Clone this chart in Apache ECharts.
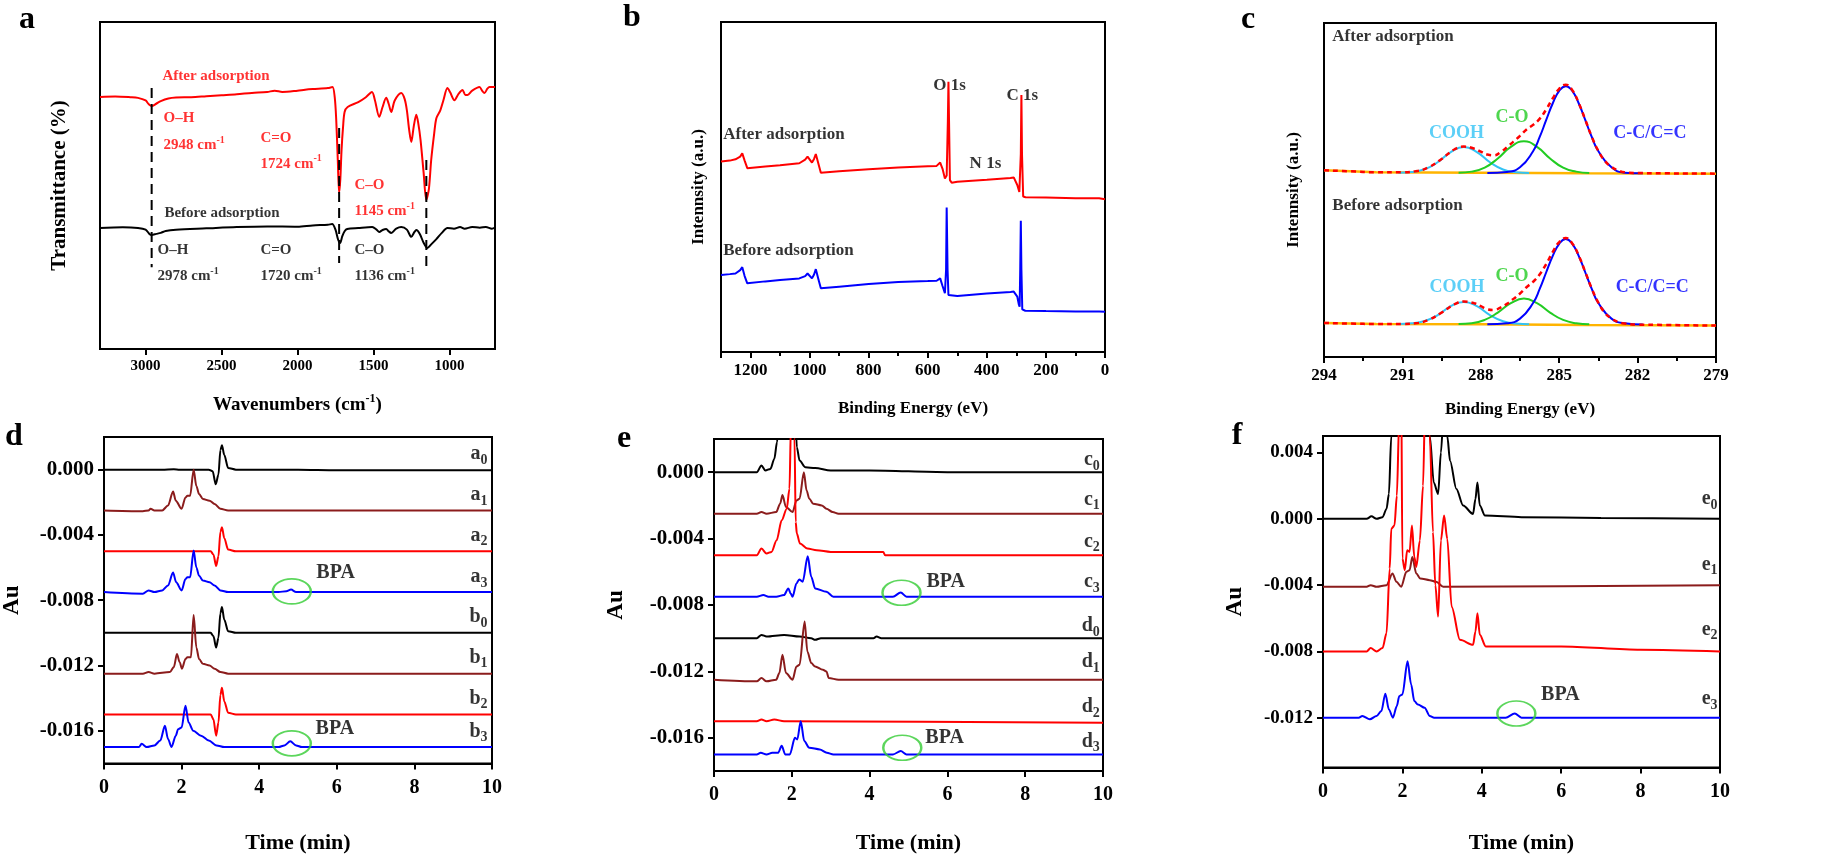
<!DOCTYPE html>
<html>
<head>
<meta charset="utf-8">
<script src="https://cdn.jsdelivr.net/npm/echarts@6/dist/echarts.min.js"></script>
<style>
html, body { margin: 0; padding: 0; background: #fff; }
#chart { width: 1835px; height: 859px; }
</style>
</head>
<body>
<div id="chart"></div>
<script>
// ---------- panel a : FTIR, [wavenumber, transmittance (a.u.)]
var ftirAfter = [[3300,77.1],[3200,77.2],[3100,77.0],[3050,76.8],[3000,76.0],[2980,74.9],[2960,74.3],[2930,75.0],[2900,75.8],[2850,76.6],[2800,76.9],[2700,77.0],[2600,77.3],[2500,77.6],[2400,77.9],[2300,78.3],[2200,78.6],[2150,79.0],[2100,78.6],[2000,79.0],[1950,79.3],[1900,79.5],[1800,79.8],[1770,80.1],[1755,77],[1745,70],[1735,58],[1726,47.7],[1718,52],[1710,60.9],[1700,68],[1690,72.5],[1670,74],[1600,75.5],[1550,77],[1510,78.6],[1490,76],[1462,71],[1440,74],[1416,76.8],[1400,75],[1383,72.5],[1360,76],[1317,78.3],[1295,76.5],[1280,73],[1265,67],[1251,63.3],[1235,68],[1218,71.6],[1205,69],[1190,63.9],[1170,54],[1152,45.6],[1135,49],[1120,57.8],[1100,66],[1086,70.6],[1060,73],[1040,76],[1013,79.8],[995,78.5],[967,76.1],[940,78],[914,79.2],[895,77.7],[881,77.7],[850,79],[802,80.1],[785,79],[769,78.3],[750,79.6],[736,80.1],[700,80.1]];
var ftirBefore = [[3300,37],[3150,37.2],[3050,37],[3000,36.5],[2975,35.2],[2960,34.9],[2930,35.2],[2900,35.5],[2868,36.1],[2800,36.5],[2600,36.9],[2400,37.3],[2200,37.5],[2000,37.4],[1900,37.8],[1800,38.0],[1772,38.2],[1750,36.5],[1733,33.5],[1720,32.4],[1705,34.5],[1690,36],[1673,36.7],[1600,37],[1508,37.3],[1480,36.5],[1462,35.8],[1440,36.4],[1416,36.7],[1400,36],[1383,35.5],[1350,36.8],[1317,37.3],[1280,36.5],[1251,34.3],[1230,35.8],[1218,36.4],[1195,35.2],[1170,32.5],[1145,30.9],[1120,32],[1086,33.6],[1050,35.5],[1013,37],[970,36.8],[930,37.3],[900,36.8],[850,37.3],[800,37.1],[760,37.3],[720,36.8],[700,37.1]];
var ftirGuides = [[2960,79.8,25.0],[1726,67.6,26.3],[1152,57.8,24.5]];
var ftirTicks = [3000,2500,2000,1500,1000];
var ftirNotesRed = [[2892,83.5,'After adsorption'],[2885,70.6,'O–H'],[2885,62.4,'2948 cm{p|-1}'],[2247,64.5,'C=O'],[2247,56.6,'1724 cm{p|-1}'],[1628,50.2,'C–O'],[1628,42.2,'1145 cm{p|-1}']];
var ftirNotesBlack = [[2879,41.6,'Before adsorption'],[2925,30.3,'O–H'],[2925,22.3,'2978 cm{p|-1}'],[2247,30.3,'C=O'],[2247,22.3,'1720 cm{p|-1}'],[1628,30.3,'C–O'],[1628,22.3,'1136 cm{p|-1}']];

// ---------- panel b : XPS survey, [binding energy, intensity (a.u.)]
var xpsAfter = [[1300,57.7],[1270,58.0],[1251,58.4],[1235,59.2],[1228,60.2],[1220,58],[1211,55.7],[1150,56.2],[1100,56.6],[1035,57.2],[1015,58.3],[1007,59.2],[992,57.4],[985,58.5],[979,60],[970,57],[962,54.3],[900,54.8],[800,55.4],[700,55.9],[600,56.3],[570,56.4],[558,57.4],[550,55.5],[542,52.6],[536,53.5],[532,70],[530,81.9],[528,70],[525,52.1],[519,51.3],[500,51.6],[400,52.2],[320,52.7],[309,52.9],[297,50.6],[290,48.5],[288,48.1],[285,60],[283,77.9],[281,60],[277,47.1],[269,46.9],[200,46.8],[100,46.6],[30,46.6],[25,47.0],[20,46.6],[0,46.3]];
var xpsBefore = [[1300,23.3],[1270,23.6],[1251,23.8],[1235,24.8],[1228,25.7],[1220,23],[1211,20.8],[1150,21.4],[1100,21.8],[1035,22.3],[1015,23.0],[1007,23.8],[992,22.3],[985,23.5],[979,25.1],[970,22],[962,19.3],[900,19.8],[800,20.6],[700,21.2],[600,21.5],[570,21.6],[558,22.3],[550,20],[542,17.8],[538,25],[536,43.8],[533,25],[530,17.3],[525,16.8],[500,17.0],[400,17.7],[320,18.2],[309,18.3],[297,16.8],[292,14.5],[289,13.7],[287,25],[285,39.8],[283,25],[280,12.9],[270,12.5],[200,12.4],[100,12.3],[30,12.3],[25,12.7],[20,12.3],[0,12.2]];
var xpsNotes = [[583,80.6,'O 1s'],[335,77.6,'C 1s'],[460,57,'N 1s'],[1294,65.8,'After adsorption'],[1294,30.6,'Before adsorption']];

// ---------- panel c : C 1s fits, [binding energy, intensity (a.u.)]
var c1sAfterBase = [[294,55.9],[292,55.3],[288,55.2],[284,55.0],[279,54.9]];
var c1sAfterCOOH = [[291.15,55.2],[290.65,55.4],[290.15,56.2],[289.65,58.3],[289.15,61.35],[288.65,62.9],[288.15,61.35],[287.65,58.3],[287.15,56.15],[286.65,55.3],[286.15,55.1]];
var c1sAfterCO = [[288.85,55.2],[288.35,55.5],[287.85,56.7],[287.35,59.45],[286.85,62.9],[286.35,64.6],[285.85,62.9],[285.35,59.45],[284.85,56.7],[284.35,55.5],[283.85,55.1]];
var c1sAfterCC = [[287.75,55.1],[287.0,55.4],[286.5,56.8],[286.0,61.6],[285.75,65.8],[285.5,70.9],[285.25,75.9],[285.0,79.7],[284.75,81.1],[284.5,79.7],[284.25,75.9],[284.0,70.9],[283.75,65.8],[283.5,61.6],[283.0,56.8],[282.5,55.2],[281.8,55.0]];
var c1sAfterFit = [[294,55.9],[293,55.6],[292,55.3],[291,55.3],[290.5,55.6],[290,56.8],[289.5,59.3],[289,62.2],[288.65,63.0],[288.25,62.4],[288,61.5],[287.75,60.6],[287.5,60.4],[287.25,61.3],[287,62.8],[286.75,64.5],[286.5,66.2],[286.25,68.1],[286,69.5],[285.75,71.3],[285.5,74.1],[285.25,77.4],[285,80.3],[284.75,81.5],[284.5,79.9],[284.25,76],[284,71],[283.75,65.9],[283.5,61.7],[283.25,58.7],[283,56.9],[282.75,55.9],[282.5,55.3],[282,55.1],[281,55.0],[279,54.9]];
var c1sBeforeBase = [[294,10.2],[292,9.9],[288,9.8],[284,9.6],[279,9.4]];
var c1sBeforeCOOH = [[291.15,9.9],[290.65,10.1],[290.15,10.8],[289.65,12.55],[289.15,15.2],[288.65,16.5],[288.15,15.2],[287.65,12.55],[287.15,10.7],[286.65,10.0],[286.15,9.8]];
var c1sBeforeCO = [[288.85,9.9],[288.35,10.1],[287.85,11.1],[287.35,13.3],[286.85,16.1],[286.35,17.5],[285.85,16.1],[285.35,13.3],[284.85,11.1],[284.35,10.1],[283.85,9.8]];
var c1sBeforeCC = [[287.75,9.8],[287.0,10.1],[286.5,11.5],[286.0,16.15],[285.75,20.3],[285.5,25.3],[285.25,30.2],[285.0,33.9],[284.75,35.3],[284.5,33.9],[284.25,30.2],[284.0,25.3],[283.75,20.3],[283.5,16.15],[283.0,11.5],[282.5,10.1],[281.8,9.7]];
var c1sBeforeFit = [[294,10.2],[293,10.0],[292,9.9],[291,9.9],[290.5,10.1],[290,11.1],[289.5,13.3],[289,15.8],[288.65,16.6],[288.25,16.1],[288,15.2],[287.75,14.3],[287.5,14.1],[287.25,14.8],[287,15.9],[286.75,17.4],[286.5,19.0],[286.25,20.9],[286,22.5],[285.75,24.7],[285.5,27.8],[285.25,31.4],[285,34.4],[284.75,35.6],[284.5,34.0],[284.25,30.3],[284,25.4],[283.75,20.4],[283.5,16.2],[283.25,13.2],[283,11.5],[282.75,10.5],[282.5,10.0],[282,9.7],[281,9.6],[279,9.4]];
var c1sNotesBlack = [[293.7,96,'After adsorption'],[293.7,45.3,'Before adsorption']];
var c1sNotesCOOH = [[290.0,67.1,'COOH'],[289.98,21,'COOH']];
var c1sNotesCO = [[287.46,71.9,'C-O'],[287.46,24,'C-O']];
var c1sNotesCC = [[282.95,67.1,'C-C/C=C'],[282.86,21,'C-C/C=C']];

// ---------- panel d : chromatograms, [time (min), Au]
var d_a0 = [[0,0],[1.5,0],[1.8,0.00003],[1.95,0],[2.7,0],[2.8,-0.0001],[2.88,-0.0009],[2.95,-0.0003],[3.0,0.0012],[3.04,0.0015],[3.1,0.0009],[3.2,0.0001],[3.4,0],[5,0],[6,-0.00003],[10,-0.00003]];
var d_a1 = [[0,-0.0025],[1.0,-0.00255],[1.15,-0.0025],[1.2,-0.0024],[1.3,-0.0025],[1.5,-0.0025],[1.65,-0.0022],[1.78,-0.00134],[1.85,-0.0019],[2.0,-0.0024],[2.1,-0.0017],[2.15,-0.0016],[2.22,-0.0016],[2.31,0.0],[2.38,-0.001],[2.45,-0.0015],[2.55,-0.0018],[2.72,-0.0019],[2.85,-0.0021],[3.0,-0.0024],[3.2,-0.0025],[10,-0.0025]];
var d_a2 = [[0,-0.005],[2.75,-0.005],[2.82,-0.0052],[2.89,-0.0059],[2.95,-0.0053],[3.0,-0.0038],[3.04,-0.00353],[3.1,-0.0042],[3.2,-0.0049],[3.4,-0.005],[10,-0.005]];
var d_a3 = [[0,-0.0075],[1.0,-0.0076],[1.15,-0.0074],[1.3,-0.0075],[1.5,-0.0074],[1.65,-0.0071],[1.78,-0.0063],[1.86,-0.0069],[2.0,-0.0074],[2.1,-0.0067],[2.15,-0.0066],[2.22,-0.0066],[2.31,-0.00495],[2.38,-0.006],[2.45,-0.0065],[2.55,-0.0068],[2.72,-0.0069],[2.85,-0.0071],[3.0,-0.0074],[3.2,-0.0075],[4.5,-0.0075],[4.7,-0.00745],[4.82,-0.00735],[4.95,-0.0075],[10,-0.0075]];
var d_b0 = [[0,-0.01],[2.75,-0.01],[2.82,-0.0102],[2.89,-0.0109],[2.95,-0.0103],[3.0,-0.0088],[3.04,-0.00842],[3.1,-0.0092],[3.2,-0.0099],[3.4,-0.01],[10,-0.01]];
var d_b1 = [[0,-0.0125],[1.0,-0.0125],[1.15,-0.0124],[1.3,-0.0125],[1.7,-0.0124],[1.8,-0.0121],[1.88,-0.0113],[1.95,-0.0118],[2.01,-0.0122],[2.1,-0.0116],[2.15,-0.0115],[2.24,-0.0115],[2.31,-0.0089],[2.38,-0.0109],[2.45,-0.0116],[2.55,-0.0119],[2.72,-0.0120],[2.85,-0.0122],[3.0,-0.0124],[3.2,-0.0125],[10,-0.0125]];
var d_b2 = [[0,-0.015],[2.75,-0.015],[2.82,-0.0153],[2.89,-0.0163],[2.95,-0.0155],[3.0,-0.0138],[3.04,-0.01337],[3.1,-0.0142],[3.2,-0.0149],[3.4,-0.015],[10,-0.015]];
var d_b3 = [[0,-0.0170],[0.9,-0.0170],[0.97,-0.0168],[1.1,-0.0170],[1.3,-0.0169],[1.45,-0.0166],[1.57,-0.0157],[1.65,-0.0165],[1.74,-0.0170],[1.85,-0.0163],[1.91,-0.0159],[2.0,-0.0158],[2.1,-0.01447],[2.18,-0.0155],[2.3,-0.0160],[2.5,-0.0163],[2.7,-0.0166],[2.9,-0.0169],[3.1,-0.0170],[4.5,-0.0170],[4.65,-0.0169],[4.8,-0.01665],[4.95,-0.0169],[5.1,-0.0170],[10,-0.0170]];
var dNames = ['a{s|0}','a{s|1}','a{s|2}','a{s|3}','b{s|0}','b{s|1}','b{s|2}','b{s|3}'];
var dNameY = [0.00096,-0.00155,-0.00404,-0.00658,-0.00903,-0.01153,-0.01402,-0.01606];
var dBpaRing = [[4.84,-0.00746],[4.84,-0.01677]];
var dBpaText = [[5.46,-0.0063],[5.44,-0.0159]];

// ---------- panel e
var e_c0 = [[0,0],[1.1,0],[1.22,0.0004],[1.32,0.0001],[1.45,0.0002],[1.55,0.0008],[1.62,0.0018],[1.68,0.0035],[1.8,0.008],[2.0,0.01],[2.08,0.004],[2.13,0.0015],[2.2,0.0007],[2.35,0.0003],[2.6,0.00025],[3.0,0.0001],[4.0,0.0001],[6,0],[10,0]];
var e_c1 = [[0,-0.0025],[1.1,-0.0025],[1.22,-0.0024],[1.35,-0.0025],[1.6,-0.0024],[1.7,-0.0019],[1.76,-0.00138],[1.85,-0.0021],[2.02,-0.0024],[2.12,-0.0017],[2.2,-0.0016],[2.31,0.0],[2.38,-0.0011],[2.45,-0.0016],[2.55,-0.0019],[2.77,-0.002],[2.89,-0.0022],[3.05,-0.0024],[3.2,-0.0025],[10,-0.0025]];
var e_c2 = [[0,-0.005],[1.1,-0.005],[1.22,-0.0046],[1.35,-0.0049],[1.48,-0.0048],[1.61,-0.0041],[1.74,-0.0029],[1.87,-0.0022],[1.94,-0.001],[1.98,0.003],[2.03,0.006],[2.07,0.002],[2.1,-0.003],[2.13,-0.0037],[2.21,-0.0043],[2.4,-0.0046],[2.64,-0.0047],[3.0,-0.0048],[4.35,-0.0048],[4.4,-0.005],[10,-0.005]];
var e_c3 = [[0,-0.0075],[1.1,-0.0075],[1.27,-0.0074],[1.4,-0.0075],[1.6,-0.0075],[1.8,-0.0074],[1.91,-0.0070],[1.97,-0.0073],[2.02,-0.0075],[2.12,-0.0067],[2.19,-0.00646],[2.28,-0.0066],[2.41,-0.00507],[2.5,-0.0063],[2.6,-0.0070],[2.89,-0.0072],[3.07,-0.0075],[4.6,-0.0075],[4.8,-0.00725],[4.95,-0.0075],[10,-0.0075]];
var e_d0 = [[0,-0.01],[1.1,-0.01],[1.22,-0.0098],[1.35,-0.0099],[1.8,-0.0098],[2.2,-0.0099],[2.5,-0.0100],[2.6,-0.0101],[2.75,-0.0100],[4.1,-0.0100],[4.18,-0.0099],[4.3,-0.0100],[10,-0.0100]];
var e_d1 = [[0,-0.0125],[1.1,-0.0126],[1.22,-0.0124],[1.35,-0.0126],[1.6,-0.0125],[1.68,-0.0121],[1.76,-0.0110],[1.85,-0.0121],[2.02,-0.0125],[2.12,-0.0117],[2.2,-0.0116],[2.33,-0.0090],[2.4,-0.0108],[2.5,-0.0115],[2.6,-0.0117],[2.8,-0.0119],[2.89,-0.0120],[2.95,-0.0124],[3.2,-0.0125],[10,-0.0125]];
var e_d2 = [[0,-0.015],[1.1,-0.015],[1.22,-0.0149],[1.35,-0.015],[1.55,-0.0149],[1.8,-0.015],[10,-0.0151]];
var e_d3 = [[0,-0.0170],[1.1,-0.0170],[1.2,-0.0169],[1.35,-0.0170],[1.5,-0.0169],[1.65,-0.0169],[1.74,-0.01648],[1.83,-0.0170],[1.95,-0.0170],[2.08,-0.0160],[2.14,-0.0161],[2.23,-0.0150],[2.32,-0.0162],[2.45,-0.0166],[2.72,-0.0167],[2.9,-0.0169],[3.07,-0.0170],[4.6,-0.0170],[4.8,-0.0168],[4.95,-0.0170],[10,-0.0170]];
var eNames = ['c{s|0}','c{s|1}','c{s|2}','c{s|3}','d{s|0}','d{s|1}','d{s|2}','d{s|3}'];
var eNameY = [0.00072,-0.00164,-0.00417,-0.00662,-0.00926,-0.01145,-0.01414,-0.01624];
var eBpaRing = [[4.82,-0.00726],[4.84,-0.0166]];
var eBpaText = [[5.45,-0.0066],[5.42,-0.0160]];

// ---------- panel f
var f_e0 = [[0,0],[1.1,0],[1.22,0.00015],[1.35,0],[1.5,0.0001],[1.6,0.0006],[1.66,0.0015],[1.72,0.005],[1.85,0.012],[2.2,0.015],[2.5,0.012],[2.69,0.005],[2.79,0.0022],[2.9,0.0015],[2.97,0.004],[3.05,0.007],[3.13,0.005],[3.2,0.0035],[3.36,0.0018],[3.53,0.0008],[3.78,0.0003],[3.84,0.0012],[3.89,0.0022],[3.95,0.0008],[4.08,0.0002],[5,0.0001],[7,0.00005],[10,0]];
var f_e1 = [[0,-0.0041],[1.1,-0.0041],[1.2,-0.0040],[1.35,-0.0041],[1.6,-0.0040],[1.75,-0.0033],[1.85,-0.0038],[1.97,-0.0041],[2.1,-0.0032],[2.18,-0.0031],[2.25,-0.0023],[2.35,-0.0033],[2.45,-0.0036],[2.69,-0.0037],[2.85,-0.0038],[3.03,-0.0041],[10,-0.0040]];
var f_e2 = [[0,-0.008],[1.1,-0.008],[1.2,-0.0078],[1.35,-0.008],[1.5,-0.0078],[1.6,-0.0069],[1.68,-0.003],[1.72,-0.0006],[1.8,-0.0004],[1.86,0.0014],[1.92,0.006],[1.97,0.008],[2.0,-0.0024],[2.06,-0.0031],[2.12,-0.0019],[2.18,-0.0020],[2.24,-0.0004],[2.3,-0.0023],[2.35,-0.0029],[2.44,-0.0013],[2.52,0.0020],[2.58,0.008],[2.65,0.008],[2.69,0.005],[2.77,-0.0008],[2.83,-0.0040],[2.9,-0.0059],[2.97,-0.0013],[3.05,0.0002],[3.13,-0.0012],[3.24,-0.0053],[3.45,-0.0073],[3.78,-0.0076],[3.84,-0.0068],[3.89,-0.0057],[3.95,-0.0070],[4.1,-0.0077],[6.0,-0.0077],[8.0,-0.0079],[10,-0.0080]];
var f_e3 = [[0,-0.0120],[0.9,-0.0120],[0.99,-0.0119],[1.18,-0.0121],[1.35,-0.0119],[1.47,-0.0116],[1.57,-0.01055],[1.66,-0.0115],[1.76,-0.0120],[1.86,-0.0113],[1.92,-0.0107],[2.0,-0.0106],[2.13,-0.0086],[2.22,-0.0100],[2.3,-0.0110],[2.39,-0.0112],[2.56,-0.0114],[2.69,-0.0119],[2.8,-0.0120],[4.6,-0.0120],[4.83,-0.01175],[5.0,-0.0120],[10,-0.0120]];
var fNames = ['e{s|0}','e{s|1}','e{s|2}','e{s|3}'];
var fNameY = [0.0012,-0.00276,-0.00668,-0.01087];
var fBpaRing = [[4.87,-0.01175]];
var fBpaText = [[5.48,-0.0106]];

var auTicksDE = [0,-0.004,-0.008,-0.012,-0.016];
var auTicksF = [0.004,0,-0.004,-0.008,-0.012];

// ---------- styles
var FONT = '"Liberation Serif", "Times New Roman", serif';
var BLACK = '#000000', DARKRED = '#8b1c1c', RED = '#ff0000', BLUE = '#0000ff';
var GREEN = '#22cc22', CYAN = '#33c3f5', ORANGE = '#ffb400', RING = '#33cc33';

var chart = echarts.init(document.getElementById('chart'));

var grids = [
    { left: 100, top: 22, width: 395, height: 327 },
    { left: 721, top: 22, width: 384, height: 330 },
    { left: 1324, top: 23, width: 392, height: 334 },
    { left: 102, top: 437, width: 390, height: 327 },
    { left: 714, top: 439, width: 389, height: 332 },
    { left: 1323, top: 436, width: 397, height: 332 }
].map(function (g) {
    g.show = true;
    g.borderColor = '#000';
    g.borderWidth = 2;
    g.containLabel = false;
    return g;
});

function rich(fs) {
    return {
        p: { fontSize: Math.round(fs * 0.65), lineHeight: Math.round(fs * 0.65), verticalAlign: 'top', fontFamily: FONT, fontWeight: 'bold' },
        s: { fontSize: Math.round(fs * 0.7), lineHeight: Math.round(fs * 0.7), verticalAlign: 'bottom', fontFamily: FONT, fontWeight: 'bold' }
    };
}

function axisLine() {
    return { show: true, onZero: false, lineStyle: { color: '#000', width: 2 } };
}

function plainNumber(v) {
    return String(Math.round(v * 1000) / 1000);
}

function xAxis(i, opt) {
    var ax = {
        type: 'value', gridIndex: i, min: opt.min, max: opt.max, inverse: !!opt.inverse,
        name: opt.name, nameLocation: 'middle', nameGap: opt.gap,
        nameTextStyle: { fontSize: opt.nameSize, fontWeight: 'bold', fontFamily: FONT, color: '#000', lineHeight: opt.nameSize * 1.3, rich: rich(opt.nameSize) },
        axisLine: axisLine(),
        axisTick: { show: true, inside: false, length: 6, lineStyle: { color: '#000', width: 2 } },
        axisLabel: { fontSize: opt.labelSize, fontWeight: 'bold', fontFamily: FONT, color: '#000', margin: opt.margin || 10, formatter: plainNumber },
        splitLine: { show: false }
    };
    if (opt.interval) ax.interval = opt.interval;
    if (opt.ticks) {
        ax.axisTick.customValues = opt.ticks;
        ax.axisLabel.customValues = opt.ticks;
    }
    if (opt.minor) {
        ax.minorTick = { show: true, splitNumber: 2, length: 4, lineStyle: { color: '#000', width: 2 } };
    }
    return ax;
}

function yPlain(i, name, gap, size) {
    return {
        type: 'value', gridIndex: i, min: 0, max: 100, name: name, nameLocation: 'middle', nameGap: gap,
        nameTextStyle: { fontSize: size, fontWeight: 'bold', fontFamily: FONT, color: '#000' },
        axisLine: axisLine(), axisTick: { show: false }, axisLabel: { show: false }, splitLine: { show: false }
    };
}

function yAu(i, min, max, ticks, gap, labelSize) {
    return {
        type: 'value', gridIndex: i, min: min, max: max, name: 'Au', nameLocation: 'middle', nameGap: gap,
        nameTextStyle: { fontSize: 23, fontWeight: 'bold', fontFamily: FONT, color: '#000' },
        axisLine: axisLine(),
        axisTick: { show: true, inside: false, length: 6, customValues: ticks, lineStyle: { color: '#000', width: 2 } },
        axisLabel: {
            fontSize: labelSize, fontWeight: 'bold', fontFamily: FONT, color: '#000', margin: 10, customValues: ticks,
            formatter: function (v) { return Math.abs(v) < 1e-9 ? '0.000' : v.toFixed(3); }
        },
        splitLine: { show: false }
    };
}

function line(i, data, color, extra) {
    var s = {
        type: 'line', xAxisIndex: i, yAxisIndex: i, data: data, symbol: 'none', showSymbol: false,
        smooth: 0.3, smoothMonotone: 'x', animation: false, silent: true,
        lineStyle: { color: color, width: 2 }
    };
    if (extra) {
        for (var k in extra) s[k] = extra[k];
    }
    return s;
}

function texts(i, items, color, fs, alignRight) {
    return {
        type: 'scatter', xAxisIndex: i, yAxisIndex: i, symbol: 'circle', symbolSize: 1, silent: true, z: 10,
        animation: false, itemStyle: { color: 'rgba(0,0,0,0)' },
        data: items.map(function (n) { return { value: [n[0], n[1]], name: n[2] }; }),
        label: {
            show: true, position: alignRight ? 'left' : 'right', distance: 0,
            formatter: function (p) { return p.name; },
            color: color, fontSize: fs, fontFamily: FONT, fontWeight: 'bold', lineHeight: Math.round(fs * 1.3),
            rich: rich(fs)
        }
    };
}

function rings(i, centers) {
    return {
        type: 'scatter', xAxisIndex: i, yAxisIndex: i, symbol: 'circle', symbolSize: [38, 25],
        silent: true, z: 9, animation: false, data: centers,
        itemStyle: { color: 'rgba(0,0,0,0)', borderColor: RING, borderWidth: 2 }
    };
}

var series = [];

// a
series.push(line(0, ftirAfter, RED, { smoothMonotone: null }));
series.push(line(0, ftirBefore, BLACK, { smoothMonotone: null }));
ftirGuides.forEach(function (g) {
    series.push(line(0, [[g[0], g[1]], [g[0], g[2]]], BLACK, { smooth: false, lineStyle: { color: BLACK, width: 2, type: [10, 6] } }));
});
series.push(texts(0, ftirNotesRed, RED, 15));
series.push(texts(0, ftirNotesBlack, BLACK, 15));

// b
series.push(line(1, xpsAfter, RED, { smooth: false }));
series.push(line(1, xpsBefore, BLUE, { smooth: false }));
series.push(texts(1, xpsNotes, BLACK, 17));

// c
var curve = { smooth: 0.5, smoothMonotone: null };
[[c1sAfterBase, c1sAfterCOOH, c1sAfterCO, c1sAfterCC, c1sAfterFit],
 [c1sBeforeBase, c1sBeforeCOOH, c1sBeforeCO, c1sBeforeCC, c1sBeforeFit]].forEach(function (set) {
    series.push(line(2, set[0], ORANGE, { smooth: false, lineStyle: { color: ORANGE, width: 2.5 } }));
    series.push(line(2, set[1], CYAN, curve));
    series.push(line(2, set[2], GREEN, curve));
    series.push(line(2, set[3], BLUE, curve));
    series.push(line(2, set[4], RED, { smooth: 0.5, smoothMonotone: null, lineStyle: { color: RED, width: 2.5, type: [5, 4] } }));
});
series.push(texts(2, c1sNotesBlack, BLACK, 17));
series.push(texts(2, c1sNotesCOOH, CYAN, 18));
series.push(texts(2, c1sNotesCO, GREEN, 18));
series.push(texts(2, c1sNotesCC, BLUE, 18));

// d, e, f
var traceColors = [BLACK, DARKRED, RED, BLUE, BLACK, DARKRED, RED, BLUE];
[d_a0, d_a1, d_a2, d_a3, d_b0, d_b1, d_b2, d_b3].forEach(function (d, k) { series.push(line(3, d, traceColors[k])); });
[e_c0, e_c1, e_c2, e_c3, e_d0, e_d1, e_d2, e_d3].forEach(function (d, k) { series.push(line(4, d, traceColors[k])); });
[f_e0, f_e1, f_e2, f_e3].forEach(function (d, k) { series.push(line(5, d, traceColors[k])); });

function nameItems(xs, names, ys) {
    return names.map(function (n, k) { return [xs, ys[k], n]; });
}
series.push(texts(3, nameItems(9.9, dNames, dNameY), BLACK, 20, true));
series.push(texts(4, nameItems(9.93, eNames, eNameY), BLACK, 20, true));
series.push(texts(5, nameItems(9.95, fNames, fNameY), BLACK, 20, true));

series.push(rings(3, dBpaRing));
series.push(rings(4, eBpaRing));
series.push(rings(5, fBpaRing));
function bpa(list) { return list.map(function (p) { return [p[0], p[1], 'BPA']; }); }
series.push(texts(3, bpa(dBpaText), BLACK, 20));
series.push(texts(4, bpa(eBpaText), BLACK, 20));
series.push(texts(5, bpa(fBpaText), BLACK, 20));

var panelLetters = [['a', 27, 20], ['b', 632, 18], ['c', 1248, 20], ['d', 14, 437], ['e', 624, 439], ['f', 1237, 436]];

var option = {
    animation: false,
    backgroundColor: '#fff',
    textStyle: { fontFamily: FONT, fontWeight: 'bold', color: '#000' },
    grid: grids,
    xAxis: [
        xAxis(0, { min: 700, max: 3300, inverse: true, ticks: ftirTicks, name: 'Wavenumbers (cm{p|-1})', gap: 44, nameSize: 19, labelSize: 15 }),
        xAxis(1, { min: 0, max: 1300, inverse: true, interval: 200, minor: true, name: 'Binding Energy (eV)', gap: 46, nameSize: 17, labelSize: 17 }),
        xAxis(2, { min: 279, max: 294, inverse: true, interval: 3, minor: true, name: 'Binding Energy (eV)', gap: 42, nameSize: 17, labelSize: 17 }),
        xAxis(3, { min: 0, max: 10, interval: 2, name: 'Time (min)', gap: 66, nameSize: 22, labelSize: 20, margin: 14 }),
        xAxis(4, { min: 0, max: 10, interval: 2, name: 'Time (min)', gap: 58, nameSize: 22, labelSize: 20, margin: 14 }),
        xAxis(5, { min: 0, max: 10, interval: 2, name: 'Time (min)', gap: 62, nameSize: 22, labelSize: 20, margin: 14 })
    ],
    yAxis: [
        yPlain(0, 'Transmittance (%)', 30, 21),
        yPlain(1, 'Intennsity (a.u.)', 14, 17),
        yPlain(2, 'Intennsity (a.u.)', 22, 17),
        yAu(3, -0.018, 0.002, auTicksDE, 80, 21),
        yAu(4, -0.018, 0.002, auTicksDE, 86, 21),
        yAu(5, -0.015, 0.005, auTicksF, 76, 19)
    ],
    graphic: panelLetters.map(function (l) {
        return {
            type: 'text', x: l[1], y: l[2], silent: true,
            style: { text: l[0], fill: '#000', font: 'bold 32px ' + FONT, align: 'center', verticalAlign: 'middle' }
        };
    }),
    series: series
};

chart.setOption(option);
window.addEventListener('resize', function () { chart.resize(); });
</script>
</body>
</html>
